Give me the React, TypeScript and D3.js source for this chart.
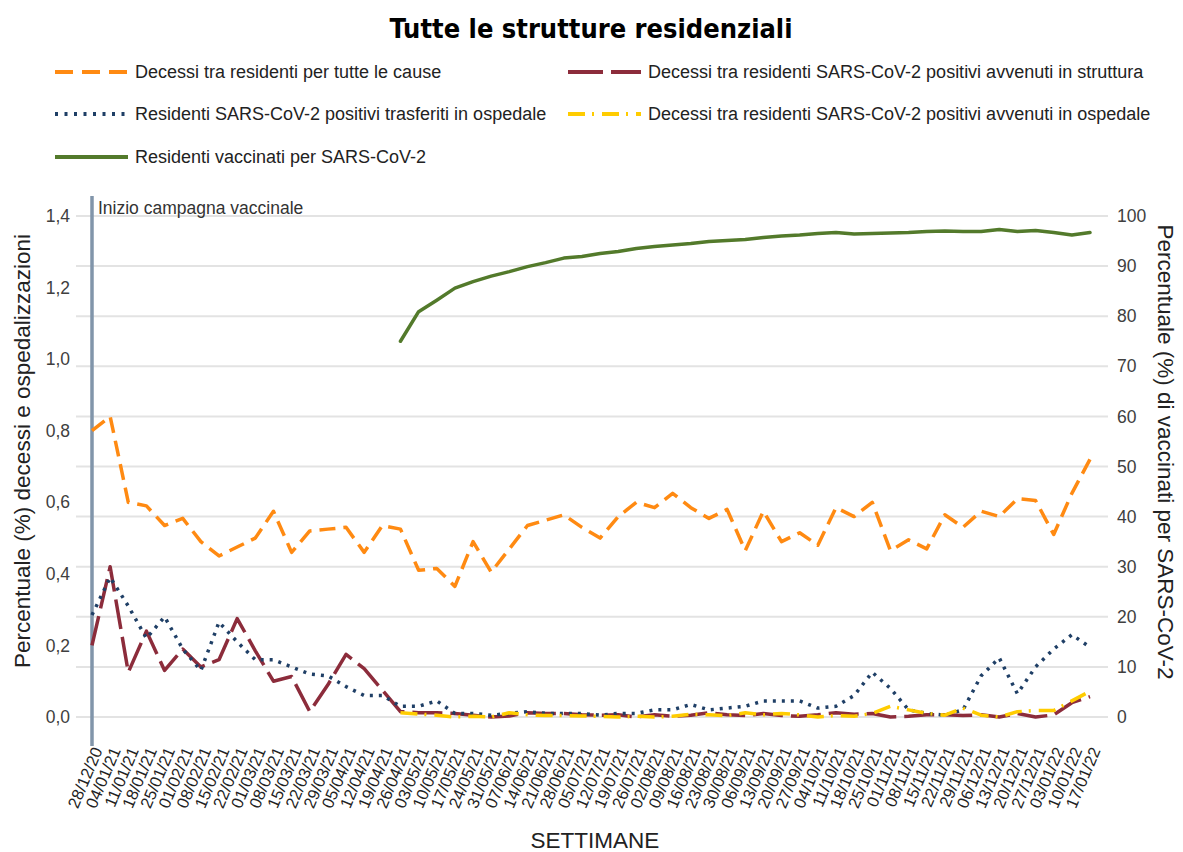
import React, { useEffect, useRef } from "react";
import * as d3 from "d3";

const weeks = [
  "28/12/20", "04/01/21", "11/01/21", "18/01/21", "25/01/21", "01/02/21", "08/02/21", "15/02/21",
  "22/02/21", "01/03/21", "08/03/21", "15/03/21", "22/03/21", "29/03/21", "05/04/21", "12/04/21",
  "19/04/21", "26/04/21", "03/05/21", "10/05/21", "17/05/21", "24/05/21", "31/05/21", "07/06/21",
  "14/06/21", "21/06/21", "28/06/21", "05/07/21", "12/07/21", "19/07/21", "26/07/21", "02/08/21",
  "09/08/21", "16/08/21", "23/08/21", "30/08/21", "06/09/21", "13/09/21", "20/09/21", "27/09/21",
  "04/10/21", "11/10/21", "18/10/21", "25/10/21", "01/11/21", "08/11/21", "15/11/21", "22/11/21",
  "29/11/21", "06/12/21", "13/12/21", "20/12/21", "27/12/21", "03/01/22", "10/01/22", "17/01/22",
];

// % decessi per tutte le cause
const decessiTotali = [
  0.8, 0.84, 0.6, 0.59, 0.535, 0.555, 0.49, 0.45, 0.475, 0.5, 0.575, 0.46, 0.52, 0.525, 0.53, 0.46,
  0.535, 0.525, 0.41, 0.415, 0.365, 0.49, 0.405, 0.47, 0.535, 0.55, 0.565, 0.53, 0.5, 0.56, 0.6, 0.585,
  0.625, 0.585, 0.555, 0.58, 0.465, 0.575, 0.49, 0.515, 0.48, 0.585, 0.56, 0.6, 0.465, 0.495, 0.47, 0.565,
  0.53, 0.575, 0.56, 0.61, 0.605, 0.51, 0.625, 0.72,
];

// % decessi SARS-CoV-2 positivi in struttura
const decessiStruttura = [
  0.2, 0.42, 0.125, 0.24, 0.13, 0.19, 0.14, 0.16, 0.275, 0.185, 0.1, 0.113, 0.015, 0.09, 0.175, 0.135,
  0.075, 0.015, 0.012, 0.012, 0.01, 0.005, 0.0, 0.003, 0.012, 0.01, 0.01, 0.006, 0.005, 0.006, 0.0, 0.006,
  0.002, 0.005, 0.012, 0.006, 0.004, 0.01, 0.004, 0.002, 0.006, 0.012, 0.008, 0.01, 0.0, 0.002, 0.006, 0.006,
  0.004, 0.006, 0.0, 0.01, 0.0, 0.006, 0.04, 0.057,
];

// % positivi trasferiti in ospedale
const trasferiti = [
  0.285, 0.39, 0.31, 0.22, 0.28, 0.19, 0.13, 0.265, 0.21, 0.16, 0.16, 0.14, 0.12, 0.115, 0.085, 0.06,
  0.06, 0.03, 0.03, 0.045, 0.01, 0.01, 0.005, 0.01, 0.015, 0.01, 0.01, 0.01, 0.005, 0.01, 0.01, 0.02,
  0.02, 0.035, 0.02, 0.025, 0.03, 0.045, 0.045, 0.045, 0.025, 0.03, 0.06, 0.125, 0.08, 0.02, 0.01, 0.005,
  0.02, 0.115, 0.165, 0.065, 0.14, 0.19, 0.23, 0.195,
];

// % decessi SARS-CoV-2 positivi in ospedale (dal 26/04/21)
const decessiOspedale = [
  null, null, null, null, null, null, null, null, null, null, null, null, null, null, null, null, null,
  0.012, 0.008, 0.005, 0.0, 0.002, 0.0, 0.012, 0.006, 0.004, 0.004, 0.003, 0.002, 0.0, 0.002, 0.0,
  0.002, 0.008, 0.006, 0.004, 0.012, 0.006, 0.01, 0.006, 0.0, 0.004, 0.002, 0.01, 0.03, 0.02, 0.01,
  0.005, 0.025, 0.005, 0.0, 0.015, 0.018, 0.018, 0.045, 0.072,
];

// % residenti vaccinati (asse destro)
const vaccinati = [
  null, null, null, null, null, null, null, null, null, null, null, null, null, null, null, null, null,
  75, 80.9, 83.2, 85.6, 86.9, 88.0, 88.9, 89.9, 90.7, 91.6, 91.9, 92.5, 92.9, 93.5, 93.9, 94.2, 94.5,
  94.9, 95.1, 95.3, 95.7, 96.0, 96.2, 96.5, 96.7, 96.4, 96.5, 96.6, 96.7, 96.9, 97.0, 96.9, 96.9, 97.3,
  96.9, 97.1, 96.7, 96.2, 96.7,
];

const leftTicks = [0, 0.2, 0.4, 0.6, 0.8, 1.0, 1.2, 1.4];
const rightTicks = [0, 10, 20, 30, 40, 50, 60, 70, 80, 90, 100];

const FONT = "'Liberation Sans', Arial, sans-serif";

const series = [
  { name: "Decessi tra residenti per tutte le cause", values: decessiTotali, axis: "left", color: "#ff8a12", dash: "16,8", legendDash: "18,9", cap: "butt" },
  { name: "Decessi tra residenti SARS-CoV-2 positivi avvenuti in struttura", values: decessiStruttura, axis: "left", color: "#8c2c3b", dash: "30,8", legendDash: "35,8", cap: "butt" },
  { name: "Residenti SARS-CoV-2 positivi trasferiti in ospedale", values: trasferiti, axis: "left", color: "#1f3f66", dash: "3,6", legendDash: "3,6.5", cap: "butt" },
  { name: "Decessi tra residenti SARS-CoV-2 positivi avvenuti in ospedale", values: decessiOspedale, axis: "left", color: "#ffcc00", dash: "17,7,2,8", legendDash: "17,7,2,8", cap: "butt" },
  { name: "Residenti vaccinati per SARS-CoV-2", values: vaccinati, axis: "right", color: "#537a2b", dash: null, legendDash: null, cap: "round" },
];

const itFormat = d3.formatLocale({ decimal: ",", thousands: ".", grouping: [3], currency: ["", "€"] }).format(".1f");

const App = () => {
  const svgRef = useRef(null);

  useEffect(() => {
    document.body.style.margin = "0";
    const width = 1183,
      height = 852;
    const svg = d3.select(svgRef.current).attr("width", width).attr("height", height);
    svg.selectAll("*").remove();

    const x = d3.scalePoint().domain(weeks).range([92, 1090]);
    const yL = d3.scaleLinear().domain([0, 1.4]).range([717, 216]);
    const yR = d3.scaleLinear().domain([0, 100]).range([717, 216]);

    // Title
    svg
      .append("text")
      .attr("x", 591)
      .attr("y", 38)
      .attr("text-anchor", "middle")
      .attr("font-family", "'Liberation Sans Narrow', 'DejaVu Sans Condensed', sans-serif")
      .attr("font-weight", "bold")
      .attr("font-size", 27)
      .attr("fill", "#000")
      .text("Tutte le strutture residenziali");

    // Legend
    const legendPos = [
      [55, 72],
      [568, 72],
      [55, 114],
      [568, 114],
      [55, 157],
    ];
    series.forEach((s, i) => {
      const [lx, ly] = legendPos[i];
      svg
        .append("line")
        .attr("x1", lx)
        .attr("x2", lx + 73)
        .attr("y1", ly)
        .attr("y2", ly)
        .attr("stroke", s.color)
        .attr("stroke-width", 4)
        .attr("stroke-dasharray", s.legendDash);
      svg
        .append("text")
        .attr("x", lx + 80)
        .attr("y", ly + 6)
        .attr("font-family", FONT)
        .attr("font-size", 18)
        .attr("fill", "#222")
        .text(s.name);
    });

    // Gridlines (right axis ticks)
    svg
      .append("g")
      .selectAll("line")
      .data(rightTicks)
      .enter()
      .append("line")
      .attr("x1", 76)
      .attr("x2", 1108)
      .attr("y1", (d) => yR(d))
      .attr("y2", (d) => yR(d))
      .attr("stroke", "#e3e3e3")
      .attr("stroke-width", 2);

    // Left axis
    svg
      .append("g")
      .attr("transform", "translate(70,0)")
      .call(d3.axisLeft(yL).tickValues(leftTicks).tickSize(0).tickPadding(0).tickFormat(itFormat))
      .call((g) => g.select(".domain").remove())
      .call((g) =>
        g.selectAll("text").attr("font-family", FONT).attr("font-size", 17.5).attr("fill", "#404040")
      );

    // Right axis
    svg
      .append("g")
      .attr("transform", "translate(1117,0)")
      .call(d3.axisRight(yR).tickValues(rightTicks).tickSize(0).tickPadding(0))
      .call((g) => g.select(".domain").remove())
      .call((g) =>
        g.selectAll("text").attr("font-family", FONT).attr("font-size", 17.5).attr("fill", "#404040")
      );

    // Bottom axis labels
    svg
      .append("g")
      .attr("transform", "translate(0,748)")
      .call(d3.axisBottom(x).tickSize(0).tickPadding(0))
      .call((g) => g.select(".domain").remove())
      .call((g) =>
        g
          .selectAll("text")
          .attr("font-family", FONT)
          .attr("font-size", 16.5)
          .attr("fill", "#222")
          .attr("text-anchor", "end")
          .attr("dy", "0.35em")
          .attr("dx", 0)
          .attr("y", 0)
          .attr("transform", "translate(5,0) rotate(-67)")
      );

    // Vaccination start marker
    svg
      .append("line")
      .attr("x1", x(weeks[0]))
      .attr("x2", x(weeks[0]))
      .attr("y1", 196)
      .attr("y2", 746)
      .attr("stroke", "#8195aa")
      .attr("stroke-width", 3.5);
    svg
      .append("text")
      .attr("x", 98)
      .attr("y", 214)
      .attr("font-family", FONT)
      .attr("font-size", 17.5)
      .attr("fill", "#333")
      .text("Inizio campagna vaccinale");

    // Series lines
    series.forEach((s) => {
      const y = s.axis === "left" ? yL : yR;
      const line = d3
        .line()
        .defined((d) => d != null)
        .x((d, i) => x(weeks[i]))
        .y((d) => y(d));
      svg
        .append("path")
        .datum(s.values)
        .attr("fill", "none")
        .attr("stroke", s.color)
        .attr("stroke-width", 3.5)
        .attr("stroke-linejoin", "round")
        .attr("stroke-linecap", s.cap)
        .attr("stroke-dasharray", s.dash)
        .attr("d", line);
    });

    // Axis titles
    svg
      .append("text")
      .attr("transform", "translate(30,451) rotate(-90)")
      .attr("text-anchor", "middle")
      .attr("font-family", FONT)
      .attr("font-size", 22.5)
      .attr("fill", "#222")
      .text("Percentuale (%) decessi e ospedalizzazioni");
    svg
      .append("text")
      .attr("transform", "translate(1158,452) rotate(90)")
      .attr("text-anchor", "middle")
      .attr("font-family", FONT)
      .attr("font-size", 22.5)
      .attr("fill", "#222")
      .text("Percentuale (%) di vaccinati per SARS-CoV-2");
    svg
      .append("text")
      .attr("x", 595)
      .attr("y", 848)
      .attr("text-anchor", "middle")
      .attr("font-family", FONT)
      .attr("font-size", 22.5)
      .attr("fill", "#222")
      .text("SETTIMANE");
  }, []);

  return (
    <div style={{ position: "absolute", left: 0, top: 0, background: "#fff" }}>
      <svg ref={svgRef} style={{ display: "block" }}></svg>
    </div>
  );
};

export default App;
